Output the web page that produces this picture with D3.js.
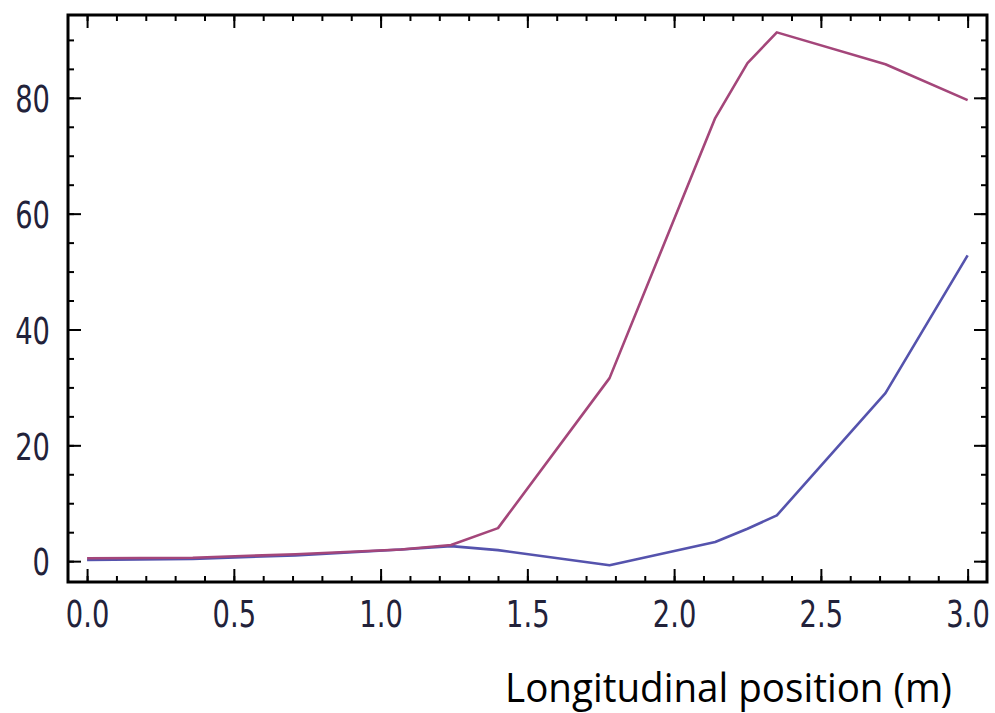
<!DOCTYPE html>
<html>
<head>
<meta charset="utf-8">
<script src="https://cdn.jsdelivr.net/npm/d3@7"></script>
<style>
  html, body { margin: 0; padding: 0; background: #fff; }
  svg { display: block; }
</style>
</head>
<body>
<div id="chart"></div>
<script>
// positions along the element (m)
const positions = [0, 0.36, 0.71, 1.07, 1.24, 1.40, 1.78, 2.14, 2.25, 2.35, 2.72, 3.0];
// first series (blue)
const blueValues = [0.2, 0.4, 1.0, 2.0, 2.6, 1.9, -0.7, 3.3, 5.6, 7.9, 29.0, 52.8];
// second series (magenta)
const magentaValues = [0.5, 0.6, 1.2, 2.0, 2.8, 5.7, 31.6, 76.5, 86.0, 91.3, 85.8, 79.6];

const xTickLabels = [0, 0.5, 1.0, 1.5, 2.0, 2.5, 3.0];
const yTickLabels = [0, 20, 40, 60, 80];

const width = 995, height = 713;
const frame = { left: 68, top: 15, right: 987, bottom: 582 };
const labelScale = 0.72;

const svg = d3.select("#chart").append("svg")
    .attr("width", width)
    .attr("height", height);

const x = d3.scaleLinear().domain([-0.065, 3.066]).range([frame.left, frame.right]);
const y = d3.scaleLinear().domain([-3.6, 94.3]).range([frame.bottom, frame.top]);

// Draw minor + major ticks on one side
function drawAxis(axisFn, scale, minorCount, translate, showLabels) {
    const g = svg.append("g").attr("transform", translate);
    g.call(axisFn(scale).tickValues(scale.ticks(minorCount)).tickSize(-6).tickFormat(""));
    const major = svg.append("g").attr("transform", translate);
    major.call(axisFn(scale)
        .tickValues(scale === x ? xTickLabels : yTickLabels)
        .tickSize(-13)
        .tickFormat(showLabels ? (scale === x ? d3.format(".1f") : d3.format("d")) : ""));
    [g, major].forEach(s => {
        s.select(".domain").remove();
        s.selectAll("line").attr("stroke", "#000").attr("stroke-width", 2);
    });
    return major;
}

const bottom = drawAxis(d3.axisBottom, x, 30, `translate(0,${frame.bottom})`, true);
drawAxis(d3.axisTop, x, 30, `translate(0,${frame.top})`, false);
const left = drawAxis(d3.axisLeft, y, 20, `translate(${frame.left},0)`, true);
drawAxis(d3.axisRight, y, 20, `translate(${frame.right},0)`, false);

bottom.selectAll("text")
    .attr("y", 45).attr("dy", 0)
    .attr("transform", `scale(${labelScale},1)`)
    .attr("font-family", "DejaVu Sans")
    .attr("font-size", 38)
    .attr("fill", "#22223a");

left.selectAll("text")
    .attr("x", -18 / labelScale).attr("dy", "0.36em")
    .attr("transform", `scale(${labelScale},1)`)
    .attr("font-family", "DejaVu Sans")
    .attr("font-size", 38)
    .attr("fill", "#22223a");

// frame
svg.append("rect")
    .attr("x", frame.left).attr("y", frame.top)
    .attr("width", frame.right - frame.left)
    .attr("height", frame.bottom - frame.top)
    .attr("fill", "none")
    .attr("stroke", "#000")
    .attr("stroke-width", 3);

// series
const line = d3.line().x(d => x(d[0])).y(d => y(d[1]));
const series = [
    { values: blueValues, color: "#5553ad" },
    { values: magentaValues, color: "#a4467a" }
];
series.forEach(s => {
    svg.append("path")
        .datum(positions.map((p, i) => [p, s.values[i]]))
        .attr("d", line)
        .attr("fill", "none")
        .attr("stroke", s.color)
        .attr("stroke-width", 2.6)
        .attr("stroke-linejoin", "round");
});

// axis title
svg.append("text")
    .attr("x", 505).attr("y", 702)
    .attr("font-family", "Open Sans")
    .attr("font-size", 40)
    .attr("textLength", 447)
    .attr("lengthAdjust", "spacingAndGlyphs")
    .attr("fill", "#000")
    .text("Longitudinal position (m)");
</script>
</body>
</html>
